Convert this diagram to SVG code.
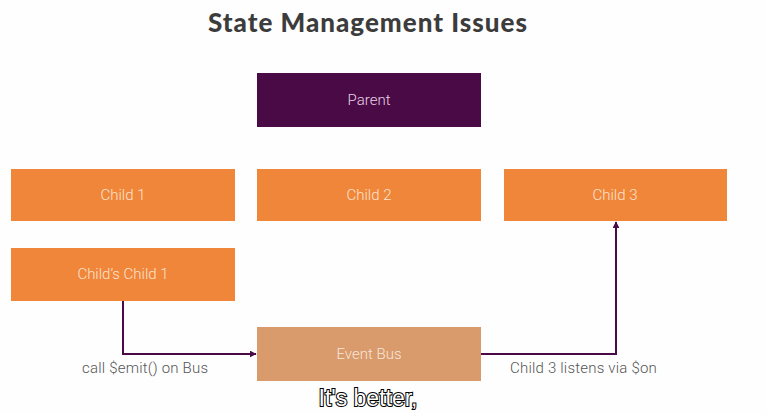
<svg xmlns="http://www.w3.org/2000/svg" width="766" height="414" viewBox="0 0 766 414">
<style>
.box{fill:#f0863a}
.lbl{font-family:Roboto,"Liberation Sans",sans-serif;font-weight:300;font-size:15px;fill:#fbe3d0;text-anchor:middle;dominant-baseline:central}
.note{font-family:Roboto,"Liberation Sans",sans-serif;font-weight:300;font-size:15px;letter-spacing:0.2px;fill:#555}
.conn{fill:none;stroke:#4a0a45;stroke-width:2}
</style>
<defs>
<marker id="ah" viewBox="0 0 10 10" refX="9" refY="5" markerWidth="7" markerHeight="7" markerUnits="userSpaceOnUse" orient="auto">
<path d="M0,0 L10,5 L0,10 z" fill="#4a0a45"/>
</marker>
</defs>
<rect width="766" height="414" fill="#fefefe"/>
<text x="368" y="32" text-anchor="middle" font-family="Lato,Inter,sans-serif" font-weight="900" font-size="26" letter-spacing="1" fill="#3c3c3c">State Management Issues</text>
<g id="parent"><rect x="257" y="73" width="224" height="54" fill="#4a0a45"/><text class="lbl" x="369" y="100" style="fill:#e6d3e4">Parent</text></g>
<g id="child1"><rect class="box" x="11" y="169" width="224" height="52"/><text class="lbl" x="123" y="195">Child 1</text></g>
<g id="child2"><rect class="box" x="257" y="169" width="224" height="52"/><text class="lbl" x="369" y="195">Child 2</text></g>
<g id="child3"><rect class="box" x="504" y="169" width="223" height="52"/><text class="lbl" x="615" y="195">Child 3</text></g>
<g id="childschild1"><rect class="box" x="11" y="248" width="224" height="53"/><text class="lbl" x="123" y="274">Child’s Child 1</text></g>
<g id="eventbus"><rect x="257" y="327" width="224" height="54" fill="#d99a6c"/><text class="lbl" x="369" y="354" style="fill:#f8e6d8">Event Bus</text></g>
<g id="connectors">
<path class="conn" d="M123,301 V354 H256" marker-end="url(#ah)"/>
<path class="conn" d="M481,354 H616 V222" marker-end="url(#ah)"/>
<text class="note" x="82" y="373">call $emit() on Bus</text>
<text class="note" x="510" y="373">Child 3 listens via $on</text>
</g>
<text x="368" y="406" text-anchor="middle" font-family="'Liberation Sans',sans-serif" font-size="23" fill="#fff" stroke="#000" stroke-width="2" paint-order="stroke">It's better,</text>
</svg>
